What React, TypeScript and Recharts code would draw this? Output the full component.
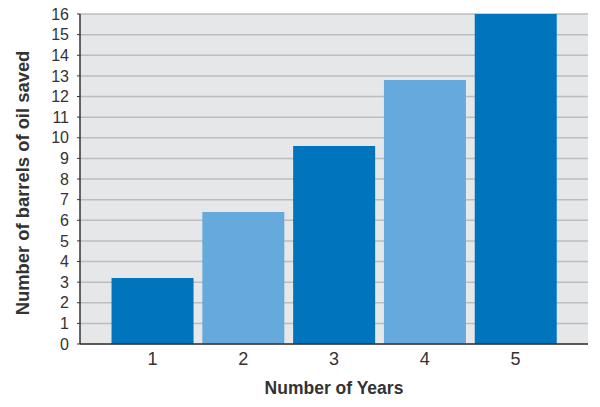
import React from "react";
import { BarChart, Bar, XAxis, YAxis, CartesianGrid, Cell } from "recharts";

const years = ["1", "2", "3", "4", "5"];
const barrels = [3.2, 6.4, 9.6, 12.8, 16];
const yTicks = [0, 1, 2, 3, 4, 5, 6, 7, 8, 9, 10, 11, 12, 13, 14, 15, 16];
const colors = ["#0074BC", "#66AADD"];

const data = years.map((y, i) => ({ year: y, value: barrels[i] }));

const font = "'Liberation Sans', Arial, Helvetica, sans-serif";

export default function App() {
  return (
    <div style={{ position: "absolute", left: 0, top: 0, width: 600, height: 407, background: "#fff", fontFamily: font }}>
      <BarChart
        width={600}
        height={407}
        data={data}
        margin={{ top: 14, right: 12, left: 0, bottom: 0 }}
        barCategoryGap="5%"
      >
        <CartesianGrid vertical={false} horizontal={true} fill="#E6E7E9" stroke="#BDBDBD" strokeWidth={1.5} />
        <XAxis
          dataKey="year"
          height={63}
          padding={{ left: 27, right: 27 }}
          tickLine={false}
          tickSize={0}
          tickMargin={8}
          axisLine={{ stroke: "#333", strokeWidth: 1.5 }}
          tick={{ fill: "#333", fontSize: 18, fontFamily: font }}
          label={{ value: "Number of Years", position: "insideBottom", offset: 13, fill: "#333", fontSize: 17.5, fontWeight: "bold", fontFamily: font }}
        />
        <XAxis xAxisId="top" orientation="top" dataKey="year" height={0} tick={false} tickLine={false} axisLine={{ stroke: "#444", strokeWidth: 1.5 }} />
        <YAxis
          width={80}
          domain={[0, 16]}
          ticks={yTicks}
          interval={0}
          tickSize={3}
          tickMargin={8}
          tickLine={{ stroke: "#333" }}
          axisLine={{ stroke: "#333", strokeWidth: 1.5 }}
          tick={{ fill: "#333", fontSize: 16, fontFamily: font }}
          label={{ value: "Number of barrels of oil saved", angle: -90, position: "insideLeft", offset: 22, dy: 4, fill: "#333", fontSize: 18.4, fontWeight: "bold", fontFamily: font, style: { textAnchor: "middle" } }}
        />
        <YAxis yAxisId="right" orientation="right" width={0} tick={false} tickLine={false} axisLine={{ stroke: "#555", strokeWidth: 1.5 }} />
        <Bar dataKey="value" isAnimationActive={false}>
          {data.map((d, i) => (
            <Cell key={d.year} fill={colors[i % 2]} />
          ))}
        </Bar>
      </BarChart>
    </div>
  );
}
